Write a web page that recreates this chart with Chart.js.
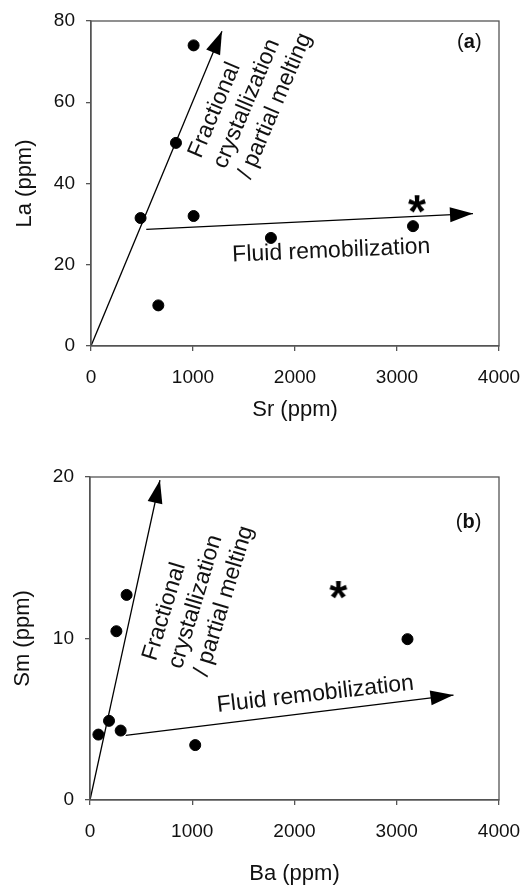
<!DOCTYPE html>
<html>
<head>
<meta charset="utf-8">
<script src="https://cdn.jsdelivr.net/npm/chart.js@4.4.1/dist/chart.umd.min.js"></script>
<style>
  body { margin: 0; background: #fff; }
  .panel { position: absolute; left: 0; width: 529px; }
  #pa { top: 0; height: 440px; }
  #pb { top: 440px; height: 447px; }
</style>
</head>
<body>
<div class="panel" id="pa"><canvas id="chartA"></canvas></div>
<div class="panel" id="pb"><canvas id="chartB"></canvas></div>
<script>
// (a) La vs Sr
const srValues = [486, 833, 1006, 1006, 660, 1764, 3157];
const laValues = [31.5, 50, 74, 32, 10, 26.6, 29.5];
const srStar = [3196];
const laStar = [34.9];
const srFracArrow = [0, 1284];
const laFracArrow = [0, 77.5];
const srFluidArrow = [542, 3745];
const laFluidArrow = [28.7, 32.6];

// (b) Sm vs Ba
const baValues = [82, 186, 300, 258, 358, 1029, 3105];
const smValues = [4.05, 4.9, 4.3, 10.45, 12.7, 3.4, 9.96];
const baStar = [2429];
const smStar = [13.0];
const baFracArrow = [0, 684];
const smFracArrow = [0, 19.8];
const baFluidArrow = [349, 3555];
const smFluidArrow = [4.0, 6.5];

// ticks
const xTicks = [0, 1000, 2000, 3000, 4000];
const laTicks = [0, 20, 40, 60, 80];
const smTicks = [0, 10, 20];

const FONT = "'Liberation Sans', Arial, sans-serif";
const INK = '#111';
const AXIS = '#555';
Chart.defaults.font.family = FONT;
Chart.defaults.color = INK;

const toPts = (xs, ys) => xs.map((v, i) => ({ x: v, y: ys[i] }));

// asterisk marker as a small canvas so it can be used as a point style
function makeAsterisk(size) {
  const c = document.createElement('canvas');
  c.width = size + 6; c.height = size + 6;
  const g = c.getContext('2d');
  g.font = 'bold 100px ' + FONT;
  const m = g.measureText('*');
  const w100 = m.actualBoundingBoxLeft + m.actualBoundingBoxRight;
  const fs = size * 100 / w100;
  g.font = 'bold ' + fs + 'px ' + FONT;
  const mm = g.measureText('*');
  const bw = mm.actualBoundingBoxLeft + mm.actualBoundingBoxRight;
  const bh = mm.actualBoundingBoxAscent + mm.actualBoundingBoxDescent;
  g.fillStyle = '#000';
  g.textBaseline = 'alphabetic';
  g.fillText('*', (c.width - bw) / 2 + mm.actualBoundingBoxLeft, (c.height - bh) / 2 + mm.actualBoundingBoxAscent);
  return c;
}
const starImg = makeAsterisk(18);

// frame, arrowheads and text notes
const decor = {
  id: 'decor',
  afterDatasetsDraw(chart, args, opts) {
    const { ctx, chartArea: a, scales: { x, y } } = chart;
    ctx.save();
    ctx.strokeStyle = AXIS;
    ctx.lineWidth = 1.3;
    ctx.strokeRect(a.left, a.top, a.right - a.left, a.bottom - a.top);

    chart.data.datasets.forEach((ds, i) => {
      if (!ds.arrow) return;
      const pts = chart.getDatasetMeta(i).data;
      const p0 = pts[pts.length - 2], p1 = pts[pts.length - 1];
      const ang = Math.atan2(p1.y - p0.y, p1.x - p0.x);
      ctx.save();
      ctx.translate(p1.x, p1.y);
      ctx.rotate(ang);
      ctx.beginPath();
      ctx.moveTo(0, 0);
      ctx.lineTo(-23, -7.5);
      ctx.lineTo(-23, 7.5);
      ctx.closePath();
      ctx.fillStyle = '#000';
      ctx.fill();
      ctx.restore();
    });

    (opts.notes || []).forEach(n => {
      ctx.save();
      ctx.translate(x.getPixelForValue(n.x), y.getPixelForValue(n.y));
      ctx.rotate(n.rot * Math.PI / 180);
      ctx.fillStyle = INK;
      ctx.font = n.size + 'px ' + FONT;
      ctx.textAlign = n.align;
      ctx.textBaseline = n.baseline;
      n.lines.forEach((t, k) => ctx.fillText(t, 0, k * n.lh));
      ctx.restore();
    });

    // panel tag like "(a)" with bold letter
    const tag = opts.tag;
    if (tag) {
      const px = x.getPixelForValue(tag.x), py = y.getPixelForValue(tag.y);
      const parts = [['(', ''], [tag.letter, 'bold '], [')', '']];
      let total = 0;
      parts.forEach(p => { ctx.font = p[1] + tag.size + 'px ' + FONT; total += ctx.measureText(p[0]).width; });
      let cx = px - total / 2;
      ctx.fillStyle = INK;
      ctx.textAlign = 'left';
      ctx.textBaseline = 'middle';
      parts.forEach(p => {
        ctx.font = p[1] + tag.size + 'px ' + FONT;
        ctx.fillText(p[0], cx, py);
        cx += ctx.measureText(p[0]).width;
      });
    }
    ctx.restore();
  }
};

function axis(ticks, min, max, title, fit, titlePad, tickPad) {
  return {
    type: 'linear',
    min: min,
    max: max,
    afterBuildTicks: s => { s.ticks = ticks.map(v => ({ value: v })); },
    // fixed box sizes; the layout padding alone sets the plot edges
    afterFit: s => {
      fit(s);
      s.paddingLeft = 0; s.paddingRight = 0; s.paddingTop = 0; s.paddingBottom = 0;
    },
    ticks: { font: { size: 19 }, color: INK, padding: tickPad, maxRotation: 0, callback: v => String(v) },
    grid: { display: true, drawOnChartArea: false, drawTicks: true, tickLength: 5, color: AXIS, lineWidth: 1.3 },
    border: { display: true, color: AXIS, width: 1.3 },
    title: { display: true, text: title, font: { size: 22 }, color: INK, padding: titlePad }
  };
}

function buildChart(id, d, o) {
  return new Chart(document.getElementById(id), {
    type: 'scatter',
    data: {
      datasets: [
        { data: toPts(d.fracX, d.fracY), showLine: true, arrow: true, borderColor: '#000', borderWidth: 1.3, pointRadius: 0 },
        { data: toPts(d.fluidX, d.fluidY), showLine: true, arrow: true, borderColor: '#000', borderWidth: 1.3, pointRadius: 0 },
        { data: toPts(d.xs, d.ys), backgroundColor: '#000', borderColor: '#000', pointRadius: 5.5 },
        { data: toPts(d.starX, d.starY), pointStyle: starImg }
      ]
    },
    options: {
      responsive: true,
      maintainAspectRatio: false,
      animation: false,
      layout: { padding: o.padding },
      scales: {
        x: axis(xTicks, 0, 4000, o.xTitle, s => { s.height = o.xHeight; }, { top: 0, bottom: o.xTitlePad }, 15),
        y: axis(o.yTicks, 0, o.yMax, o.yTitle, s => { s.width = o.yWidth; }, { top: o.yTitlePad, bottom: 0 }, 11)
      },
      plugins: {
        legend: { display: false },
        tooltip: { enabled: false },
        decor: { notes: o.notes, tag: o.tag }
      }
    },
    plugins: [decor]
  });
}

buildChart('chartA',
  { xs: srValues, ys: laValues, starX: srStar, starY: laStar,
    fracX: srFracArrow, fracY: laFracArrow, fluidX: srFluidArrow, fluidY: laFluidArrow },
  {
    padding: { top: 21, right: 30, left: 0, bottom: 0 },
    xHeight: 94, yWidth: 91, xTitlePad: 17, yTitlePad: 12,
    xTitle: 'Sr (ppm)', yTitle: 'La (ppm)', yTicks: laTicks, yMax: 80,
    notes: [
      { lines: ['Fractional', 'crystallization', '/ partial melting'], x: 1076, y: 46.0, rot: -67, size: 23, lh: 27, align: 'left', baseline: 'alphabetic' },
      { lines: ['Fluid remobilization'], x: 2356, y: 23.4, rot: -2.5, size: 23, lh: 27, align: 'center', baseline: 'middle' }
    ],
    tag: { letter: 'a', x: 3709, y: 74.6, size: 20 }
  });

buildChart('chartB',
  { xs: baValues, ys: smValues, starX: baStar, starY: smStar,
    fracX: baFracArrow, fracY: smFracArrow, fluidX: baFluidArrow, fluidY: smFluidArrow },
  {
    padding: { top: 37, right: 30, left: 0, bottom: 0 },
    xHeight: 87, yWidth: 90, xTitlePad: 0, yTitlePad: 10,
    xTitle: 'Ba (ppm)', yTitle: 'Sm (ppm)', yTicks: smTicks, yMax: 20,
    notes: [
      { lines: ['Fractional', 'crystallization', '/ partial melting'], x: 642, y: 8.56, rot: -73, size: 23, lh: 27, align: 'left', baseline: 'alphabetic' },
      { lines: ['Fluid remobilization'], x: 2204, y: 6.54, rot: -6.5, size: 23, lh: 27, align: 'center', baseline: 'middle' }
    ],
    tag: { letter: 'b', x: 3703, y: 17.2, size: 20 }
  });
</script>
</body>
</html>
